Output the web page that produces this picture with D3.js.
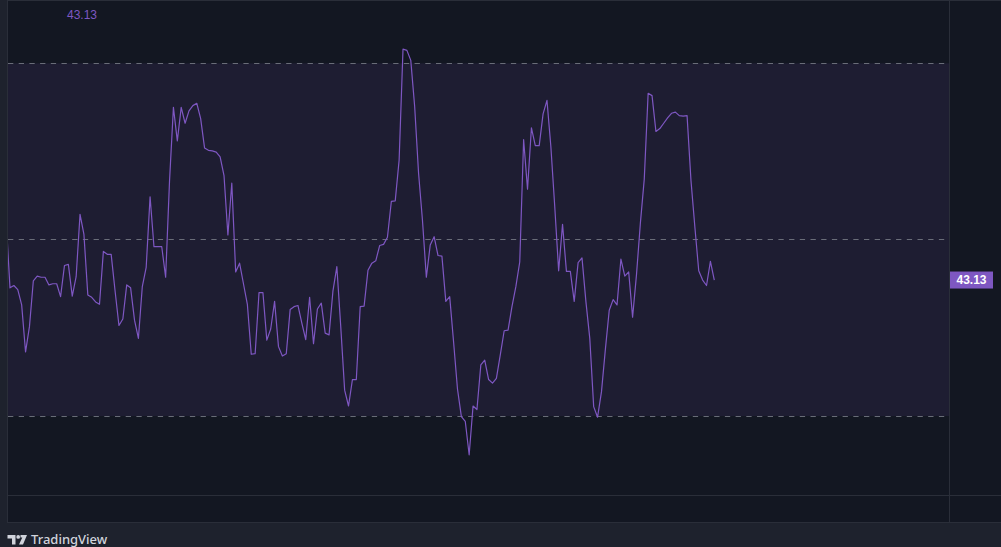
<!DOCTYPE html>
<html>
<head>
<meta charset="utf-8">
<script src="https://cdn.jsdelivr.net/npm/d3@7"></script>
<style>
  html, body { margin: 0; padding: 0; background: #1e222d; overflow: hidden; }
  svg { display: block; }
</style>
</head>
<body>
<div id="chart"></div>
<script>
// ---- data ----
const values = [
  53.3, 41.8, 42.2, 41.5, 38.9, 30.9, 35.2, 43.0, 43.8, 43.6,
  43.6, 42.3, 42.5, 42.5, 40.3, 45.6, 45.8, 40.4, 43.7, 54.3,
  50.9, 40.6, 40.2, 39.4, 39.0, 48.0, 47.5, 47.5, 41.3, 35.4,
  36.5, 42.3, 41.8, 36.3, 33.2, 42.0, 45.3, 57.3, 48.8, 48.8,
  48.8, 43.6, 60.0, 72.5, 66.8, 72.5, 69.8, 71.9, 72.8, 73.2,
  70.6, 65.6, 65.2, 65.1, 64.9, 64.1, 60.9, 50.8, 59.6, 44.5,
  46.0, 42.5, 39.0, 30.5, 30.6, 41.0, 41.0, 32.9, 34.8, 39.5,
  31.8, 30.2, 30.6, 38.1, 38.6, 38.8, 35.8, 33.0, 40.2, 32.3,
  38.2, 39.2, 34.1, 33.8, 41.3, 45.4, 35.2, 24.4, 21.7, 26.2,
  26.2, 38.6, 38.7, 44.8, 46.0, 46.4, 49.0, 49.2, 50.4, 56.5,
  56.6, 63.5, 82.4, 82.2, 80.5, 72.6, 61.3, 53.3, 43.6, 49.1,
  50.5, 47.3, 47.2, 39.5, 40.3, 32.6, 24.6, 19.9, 19.1, 13.4,
  21.7, 21.1, 28.7, 29.5, 26.2, 25.6, 26.4, 30.4, 34.5, 34.6,
  38.6, 42.0, 46.2, 67.0, 58.6, 69.0, 66.0, 66.0, 71.4, 73.7,
  65.8, 55.6, 44.7, 52.6, 44.6, 44.6, 39.5, 46.1, 46.9, 39.5,
  33.2, 21.6, 19.8, 24.1, 31.3, 38.0, 39.8, 38.9, 46.7, 43.8,
  44.5, 36.8, 44.0, 52.8, 60.3, 74.9, 74.5, 68.4, 68.9, 69.8,
  70.7, 71.5, 71.7, 71.1, 71.0, 71.1, 60.1, 52.2, 44.7, 43.13,
  42.2, 46.3, 43.13
];
const bandLevels = [80, 50, 20];
const bandRange = [20, 80];
const lastLabel = "43.13";
const brandText = "TradingView";

// ---- layout ----
const W = 1001, H = 547;
const paneL = 8, paneR = 949, paneT = 1, paneB = 495, axisB = 522;
const lineColor = "#7e57c2";

const svg = d3.select("#chart").append("svg")
  .attr("width", W).attr("height", H);

// outer background
svg.append("rect").attr("x", 0).attr("y", 0).attr("width", W).attr("height", H).attr("fill", "#1e222d");
// chart area background
svg.append("rect").attr("x", paneL).attr("y", paneT).attr("width", W - paneL).attr("height", axisB - paneT)
  .attr("fill", "#131722");

const x = d3.scaleLinear().domain([0, values.length - 1]).range([6.1, 714.3]);
const y = d3.scaleLinear().domain(bandRange).range([416, 63.3]);

svg.append("clipPath").attr("id", "pane")
  .append("rect").attr("x", paneL).attr("y", paneT).attr("width", paneR - paneL).attr("height", paneB - paneT);

const pane = svg.append("g").attr("clip-path", "url(#pane)");

// band fill
pane.append("rect")
  .attr("x", paneL).attr("width", paneR - paneL)
  .attr("y", y(bandRange[1])).attr("height", y(bandRange[0]) - y(bandRange[1]))
  .attr("fill", "rgba(126,87,194,0.1)");

// band lines
pane.selectAll("line.band").data(bandLevels).join("line")
  .attr("class", "band")
  .attr("x1", paneL).attr("x2", paneR)
  .attr("y1", d => Math.floor(y(d)) + 0.5).attr("y2", d => Math.floor(y(d)) + 0.5)
  .attr("stroke", "#787b86").attr("stroke-opacity", 0.85)
  .attr("stroke-width", 1).attr("stroke-dasharray", "5.3,5.4");

// main line
pane.append("path")
  .datum(values)
  .attr("d", d3.line().x((d, i) => x(i)).y(d => y(d)))
  .attr("fill", "none").attr("stroke", lineColor).attr("stroke-width", 1.2)
  .attr("stroke-linejoin", "round");

// borders / separators
const border = "#2a2e39";
svg.append("line").attr("x1", paneL - 0.5).attr("x2", paneL - 0.5).attr("y1", 0).attr("y2", axisB + 1).attr("stroke", border);
svg.append("line").attr("x1", paneL).attr("x2", W).attr("y1", 0.5).attr("y2", 0.5).attr("stroke", border);
svg.append("line").attr("x1", paneL).attr("x2", W).attr("y1", paneB + 0.5).attr("y2", paneB + 0.5).attr("stroke", border);
svg.append("line").attr("x1", paneR + 0.5).attr("x2", paneR + 0.5).attr("y1", 0).attr("y2", axisB).attr("stroke", border);
svg.append("line").attr("x1", paneL).attr("x2", W).attr("y1", axisB + 0.5).attr("y2", axisB + 0.5).attr("stroke", border);

// right price axis (no ticks) + last value label
const yAxis = d3.axisRight(y).tickValues([]).tickSize(0);
const axisG = svg.append("g").attr("transform", `translate(${paneR + 1},0)`).call(yAxis);
axisG.select(".domain").remove();

const lastV = values[values.length - 1];
const ly = y(lastV);
svg.append("rect")
  .attr("x", paneR + 1).attr("y", ly - 8.5).attr("width", 43).attr("height", 17)
  .attr("fill", lineColor);
svg.append("text")
  .attr("x", paneR + 1 + 21.5).attr("y", ly + 4.3)
  .attr("text-anchor", "middle")
  .attr("font-family", "'Liberation Sans', Arial, sans-serif")
  .attr("font-size", 12).attr("font-weight", "bold")
  .attr("fill", "#ffffff")
  .text(lastLabel);

// legend value at top-left
svg.append("text")
  .attr("x", 67).attr("y", 18.5)
  .attr("font-family", "'Liberation Sans', Arial, sans-serif")
  .attr("font-size", 12)
  .attr("fill", lineColor)
  .text(lastLabel);

// TradingView brand
const brand = svg.append("g").attr("fill", "#d1d4dc");
brand.append("path").attr("d", "M7.5,535 H15.5 V544.5 H12 V538.5 H7.5 Z");
brand.append("circle").attr("cx", 18.2).attr("cy", 536.9).attr("r", 1.9);
brand.append("path").attr("d", "M20.5,535 H27 L23,544.5 H19 L22.3,537.6 H20.5 Z");
brand.append("text")
  .attr("x", 31).attr("y", 543.8)
  .attr("font-family", "'Noto Sans', 'Open Sans', sans-serif")
  .attr("font-size", 13).attr("font-weight", 500)
  .attr("fill", "#d1d4dc")
  .text(brandText);
</script>
</body>
</html>
